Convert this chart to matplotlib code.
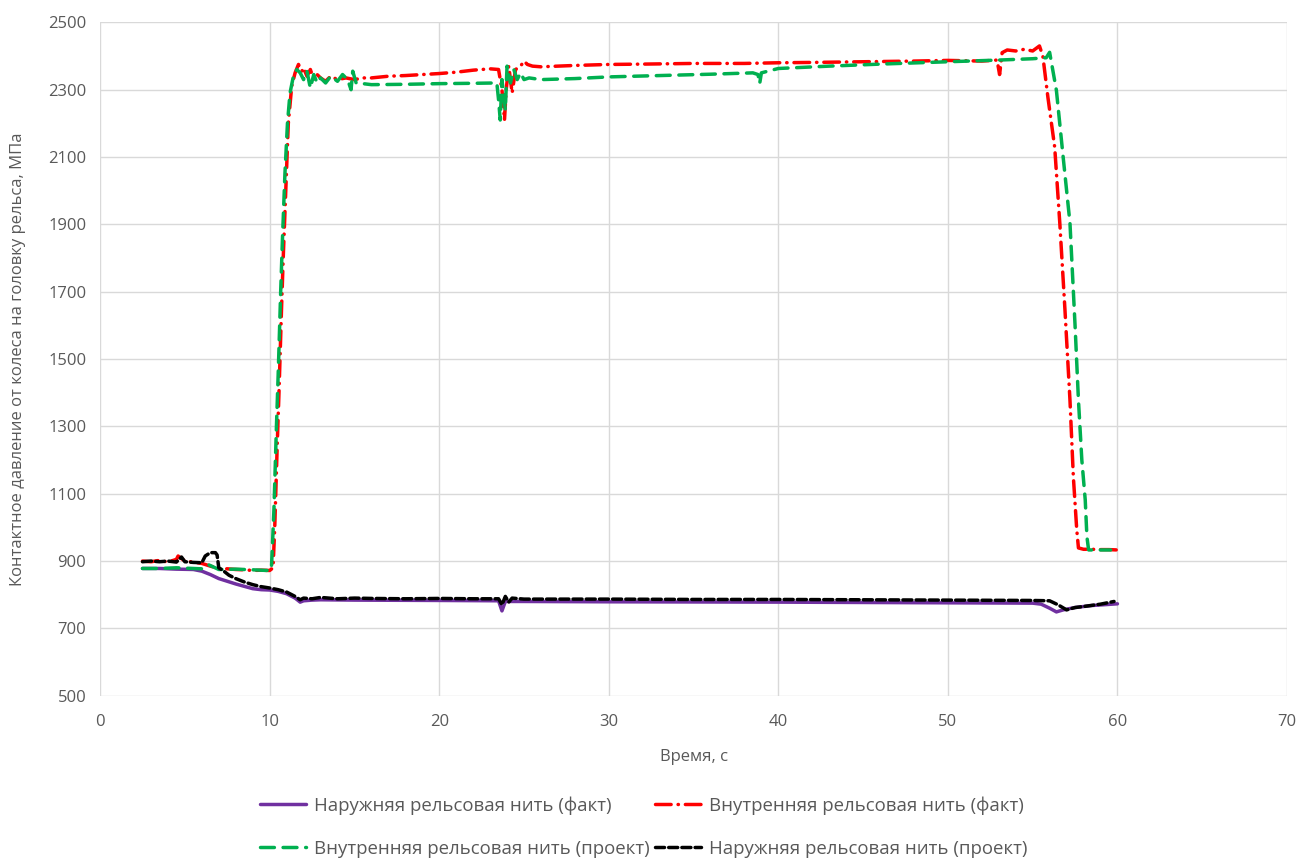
import matplotlib
matplotlib.use("Agg")
import matplotlib.pyplot as plt

plt.rcParams['font.family'] = ['Open Sans', 'DejaVu Sans']

# Inner rail, measured
inner_fact_t = [2.5, 3.0, 3.5, 4.0, 4.5, 4.6, 5.0, 5.5, 6.0, 6.5, 7.0, 7.5, 8.0, 8.5, 9.0,
                9.5, 10.0, 10.2, 10.3, 10.45, 10.55, 10.7, 10.8, 10.95, 11.1, 11.3, 11.5,
                11.7, 11.9, 12.0, 12.2, 12.4, 12.6, 12.8, 13.0, 13.3, 13.6, 14.0, 14.5,
                15.0, 15.5, 16.0, 17.0, 18.0, 19.0, 20.0, 21.0, 22.0, 23.0, 23.5, 23.7,
                23.85, 23.95, 24.1, 24.3, 24.5, 24.8, 25.0, 25.2, 25.5, 26.0, 27.0, 28.0,
                30.0, 32.0, 35.0, 38.0, 40.0, 42.0, 45.0, 48.0, 50.0, 52.0, 52.9, 53.05,
                53.2, 53.5, 54.0, 54.5, 55.0, 55.4, 55.6, 55.9, 56.3, 56.6, 56.9, 57.2,
                57.4, 57.6, 57.7, 58.0, 58.5, 59.0, 59.5, 60.0]
inner_fact_p = [900, 898, 902, 897, 905, 915, 900, 897, 893, 885, 878, 877, 875, 874, 872,
                873, 872, 880, 1000, 1250, 1400, 1650, 1800, 2000, 2200, 2310, 2350,
                2375, 2355, 2365, 2340, 2360, 2330, 2345, 2335, 2325, 2340, 2330, 2335,
                2330, 2335, 2335, 2340, 2342, 2345, 2348, 2352, 2358, 2362, 2360, 2300,
                2210, 2300, 2370, 2290, 2360, 2370, 2385, 2375, 2370, 2368, 2370, 2372,
                2375, 2376, 2378, 2378, 2380, 2381, 2383, 2385, 2387, 2385, 2388, 2345,
                2410, 2418, 2415, 2420, 2415, 2430, 2400, 2277, 2129, 1904, 1650, 1378,
                1150, 993, 939, 935, 935, 934, 934, 933]

# Inner rail, design
inner_proj_t = [2.5, 3.5, 4.5, 5.5, 6.0, 6.4, 7.0, 8.0, 9.0, 9.9, 10.1, 10.15, 10.25, 10.4,
                10.5, 10.65, 10.75, 10.9, 11.05, 11.2, 11.4, 11.6, 11.8, 12.0, 12.2, 12.4,
                12.6, 12.8, 13.0, 13.3, 13.6, 14.0, 14.3, 14.6, 14.8, 14.9, 15.1, 15.5,
                16.0, 18.0, 20.0, 22.0, 23.4, 23.5, 23.6, 23.7, 23.9, 24.0, 24.2, 24.4,
                24.6, 24.8, 25.0, 25.3, 26.0, 28.0, 30.0, 33.0, 36.0, 38.5, 38.8, 38.9,
                39.0, 40.0, 43.0, 46.0, 50.0, 53.0, 55.0, 55.8, 56.0, 56.4, 56.8, 57.2,
                57.5, 57.7, 57.9, 58.1, 58.2, 58.3, 59.0, 59.6]
inner_proj_p = [878, 878, 880, 878, 877, 889, 875, 876, 874, 872, 875, 930, 1050, 1300,
                1450, 1700, 1850, 2050, 2200, 2290, 2340, 2360, 2350, 2330, 2355, 2305,
                2345, 2320, 2335, 2320, 2340, 2325, 2345, 2330, 2300, 2355, 2320, 2318,
                2315, 2316, 2318, 2319, 2320, 2270, 2210, 2330, 2240, 2370, 2320, 2360,
                2330, 2350, 2330, 2335, 2330, 2333, 2338, 2342, 2346, 2350, 2345, 2318,
                2350, 2363, 2370, 2376, 2383, 2388, 2392, 2395, 2411, 2298, 2099, 1904,
                1600, 1378, 1200, 1082, 972, 933, 933, 933]

# Outer rail, measured
outer_fact_t = [2.5, 3.5, 4.5, 5.5, 6.0, 6.5, 7.0, 7.5, 8.0, 8.5, 9.0, 9.5, 10.0, 10.5,
                11.0, 11.5, 11.8, 12.0, 12.5, 13.0, 15.0, 20.0, 23.5, 23.7, 23.9, 25.0,
                30.0, 40.0, 50.0, 55.0, 55.5, 56.0, 56.4, 56.8, 57.5, 58.5, 60.0]
outer_fact_p = [878, 878, 876, 875, 870, 860, 848, 840, 832, 825, 818, 815, 814, 810,
                803, 790, 778, 782, 784, 785, 784, 783, 782, 752, 780, 780,
                779, 778, 776, 775, 772, 760, 749, 755, 762, 768, 773]

# Outer rail, design
outer_proj_t = [2.5, 3.0, 3.5, 4.0, 4.5, 4.8, 5.0, 5.5, 6.0, 6.2, 6.5, 6.8, 6.9, 7.0, 7.3,
                7.6, 8.0, 8.5, 9.0, 9.5, 10.0, 10.5, 11.0, 11.5, 11.8, 12.0, 12.5, 13.0,
                14.0, 15.0, 16.0, 18.0, 20.0, 22.0, 23.5, 23.7, 23.9, 24.1, 24.3, 25.0,
                30.0, 35.0, 40.0, 45.0, 50.0, 55.0, 56.0, 56.5, 57.0, 57.5, 58.0, 59.0, 59.8]
outer_proj_p = [898, 900, 898, 900, 897, 912, 898, 896, 895, 915, 925, 925, 918, 880, 870,
                858, 848, 838, 830, 824, 820, 815, 808, 795, 785, 790, 788, 792,
                788, 790, 789, 788, 789, 788, 788, 770, 795, 778, 790, 787,
                787, 786, 786, 785, 784, 783, 782, 770, 755, 762, 765, 772, 780]

labels = ["Наружняя рельсовая нить (факт)",
          "Внутренняя рельсовая нить (факт)",
          "Внутренняя рельсовая нить (проект)",
          "Наружняя рельсовая нить (проект)"]

gray = "#595959"
fig = plt.figure(figsize=(13, 8.6), dpi=100)
ax = fig.add_axes([0.077, 0.191, 0.913, 0.783])

lw = 2.5
l_of, = ax.plot(outer_fact_t, outer_fact_p, color="#7030A0", lw=lw, solid_capstyle="round")
l_if, = ax.plot(inner_fact_t, inner_fact_p, color="#FF0000", lw=lw,
                linestyle=(0, (4.5, 2.0, 0.1, 2.0)), dash_capstyle="round")
l_ip, = ax.plot(inner_proj_t, inner_proj_p, color="#00B050", lw=lw,
                linestyle=(0, (4.0, 2.5)), dash_capstyle="round")
l_op, = ax.plot(outer_proj_t, outer_proj_p, color="#000000", lw=lw,
                linestyle=(0, (2.6, 1.2)), dash_capstyle="round")

ax.set_xlim(0, 70)
ax.set_ylim(500, 2500)
ax.set_xticks(range(0, 71, 10))
ax.set_yticks(range(500, 2501, 200))
ax.grid(True, color="#D9D9D9", lw=1)
ax.set_axisbelow(True)
for s in ax.spines.values():
    s.set_visible(False)
ax.tick_params(length=0, labelsize=12, colors=gray)
ax.tick_params(axis="x", pad=13)
ax.tick_params(axis="y", pad=10)
ax.set_xlabel("Время, с", fontsize=12, color=gray, labelpad=14)
ax.set_ylabel("Контактное давление от колеса на головку рельса, МПа",
              fontsize=12, color=gray, labelpad=16)

# two rows: purple / red on top, green / black below
fig.legend([l_of, l_ip, l_if, l_op], [labels[0], labels[2], labels[1], labels[3]],
           loc="lower center", bbox_to_anchor=(0.495, -0.017), ncol=2, frameon=False,
           fontsize=13.4, labelcolor=gray, handlelength=2.5, handletextpad=0.4,
           columnspacing=0.3, labelspacing=1.35)

fig.savefig("out.png", dpi=100)
